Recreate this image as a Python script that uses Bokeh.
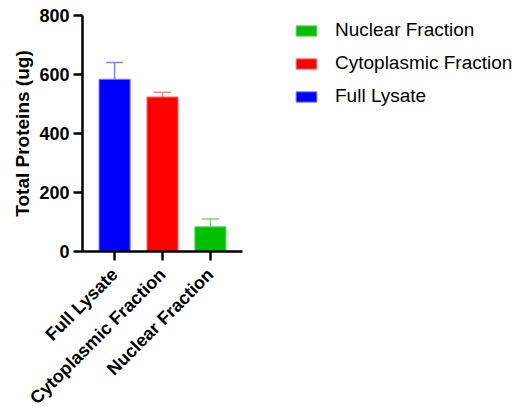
from bokeh.plotting import figure
from bokeh.models import ColumnDataSource, Whisker, TeeHead, Legend, LegendItem, FixedTicker, Range1d, FactorRange
from bokeh.embed import file_html
from bokeh.resources import INLINE
import math

categories = ["Full Lysate", "Cytoplasmic Fraction", "Nuclear Fraction"]
means = [584, 524, 84]
errors = [57, 16, 26]
colors = ["#0000FF", "#FF0000", "#00C000"]
err_colors = ["#8080FF", "#FF8080", "#70D870"]
yticks = [0, 200, 400, 600, 800]

p = figure(x_range=FactorRange(factors=categories, range_padding=0.17, range_padding_units="absolute"),
           y_range=Range1d(0, 800), frame_width=160, frame_height=236,
           output_backend="svg", toolbar_location=None,
           min_border_left=82, min_border_right=0, min_border_top=15, min_border_bottom=100)

renderers = []
for i in range(len(categories)):
    s = ColumnDataSource(dict(cat=[categories[i]], mean=[means[i]], top_err=[means[i] + errors[i]]))
    r = p.vbar(x="cat", top="mean", bottom=0, width=0.65, source=s, fill_color=colors[i],
               line_color=err_colors[i], line_width=1)
    renderers.append(r)
    w = Whisker(base="cat", lower="mean", upper="top_err", source=s, dimension="height",
                line_color=err_colors[i], line_width=1.5,
                upper_head=TeeHead(size=17, line_color=err_colors[i], line_width=1.5), lower_head=None)
    p.add_layout(w)

legend = Legend(items=[LegendItem(label=categories[i], renderers=[renderers[i]]) for i in [2, 1, 0]],
                location=(51, 144), padding=0, margin=0, border_line_color=None,
                background_fill_alpha=0, glyph_width=26, glyph_height=13, label_height=20,
                spacing=11, label_standoff=16, label_text_font="Liberation Sans",
                label_text_font_size="19px", label_text_color="#000000")
p.add_layout(legend, "right")

p.outline_line_color = None
p.grid.grid_line_color = None
p.background_fill_color = "white"

for ax in (p.xaxis, p.yaxis):
    ax.axis_line_width = 2.5
    ax.axis_line_color = "black"
    ax.major_tick_line_width = 2.5
    ax.major_tick_line_color = "black"
    ax.major_tick_out = 9
    ax.major_tick_in = 0
    ax.minor_tick_line_color = None
    ax.major_label_text_font = "Liberation Sans"
    ax.major_label_text_font_style = "bold"
    ax.major_label_text_font_size = "18px"
    ax.major_label_text_color = "black"

p.yaxis.ticker = FixedTicker(ticks=yticks)
p.yaxis.axis_label = "Total Proteins (ug)"
p.yaxis.axis_label_text_font = "Liberation Sans"
p.yaxis.axis_label_text_font_style = "bold"
p.yaxis.axis_label_text_font_size = "19px"
p.yaxis.axis_label_text_color = "black"
p.yaxis.axis_label_standoff = 3
p.yaxis.major_label_standoff = 4
p.xaxis.major_label_orientation = math.pi / 4
p.xaxis.major_label_standoff = 11

open("out.html", "w").write(file_html(p, INLINE))
